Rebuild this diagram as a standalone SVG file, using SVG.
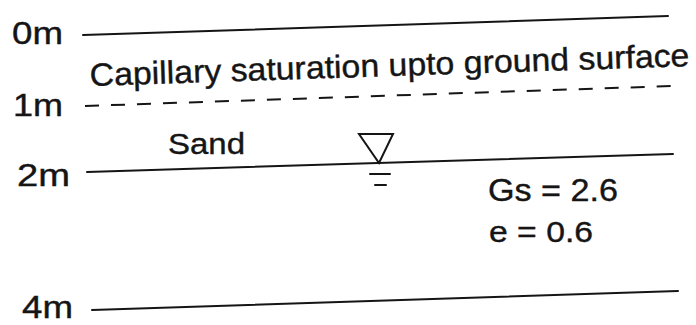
<svg xmlns="http://www.w3.org/2000/svg" width="696" height="325" viewBox="0 0 696 325">
<style>
.t{font-family:"Liberation Sans",Arial,sans-serif;fill:#151515;stroke:#151515;stroke-width:0.4}
.ln{stroke:#151515;stroke-width:2;fill:none;stroke-linecap:round}
.dash{stroke-dasharray:14 12;stroke-linecap:butt}
</style>
<rect width="696" height="325" fill="#ffffff"/>
<g id="level-0m">
<text class="t" x="12" y="44" font-size="31" textLength="51" lengthAdjust="spacingAndGlyphs">0m</text>
</g>
<g id="level-1m">
<text class="t" x="13" y="116" font-size="31" textLength="50" lengthAdjust="spacingAndGlyphs">1m</text>
</g>
<g id="level-2m">
<text class="t" x="17" y="186" font-size="31" textLength="53" lengthAdjust="spacingAndGlyphs">2m</text>
</g>
<g id="level-4m">
<text class="t" x="22" y="318" font-size="31" textLength="51" lengthAdjust="spacingAndGlyphs">4m</text>
</g>
<g id="capillary-label">
<text class="t" x="90" y="86" font-size="32" textLength="600" lengthAdjust="spacingAndGlyphs" transform="rotate(-1.9 90 86)">Capillary saturation upto ground surface</text>
</g>
<g id="sand-label">
<text class="t" x="168" y="154" font-size="30" textLength="77" lengthAdjust="spacingAndGlyphs">Sand</text>
</g>
<g id="properties">
<text class="t" x="488" y="201" font-size="32" textLength="130" lengthAdjust="spacingAndGlyphs">Gs = 2.6</text>
<text class="t" x="489" y="242" font-size="30" textLength="104" lengthAdjust="spacingAndGlyphs">e = 0.6</text>
</g>
<g id="water-table">
<polygon class="ln" points="359,134 393,134 379,163" stroke-linejoin="miter"/>
<line class="ln" x1="370" y1="174" x2="390" y2="174"/>
<line class="ln" x1="375" y1="185" x2="386" y2="185"/>
</g>
<g id="connectors">
<line class="ln" x1="83" y1="35" x2="668" y2="16"/>
<line class="ln dash" x1="85" y1="106" x2="671" y2="86"/>
<line class="ln" x1="87" y1="172" x2="673" y2="154"/>
<line class="ln" x1="92" y1="310" x2="678" y2="291"/>
</g>
</svg>
